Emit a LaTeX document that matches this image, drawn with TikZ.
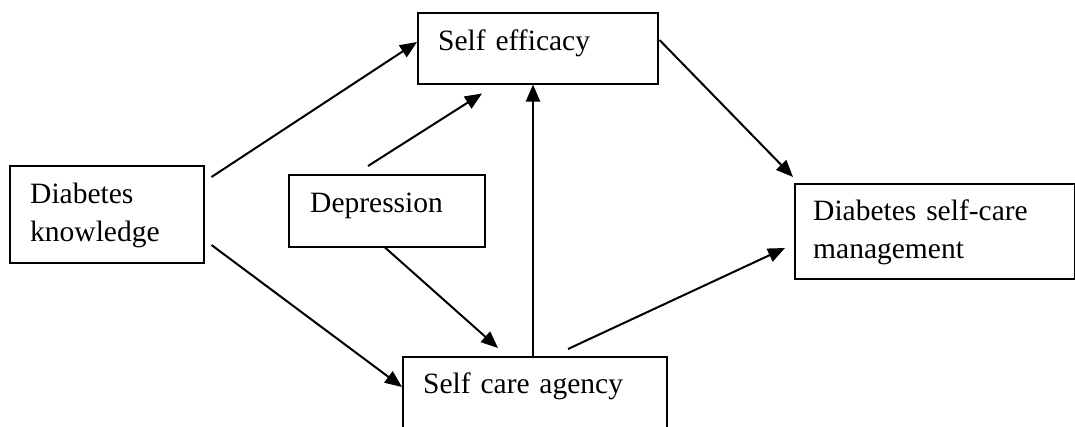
\documentclass[tikz,border=0pt]{standalone}
\usepackage{fontspec}
\setmainfont{Liberation Serif}
\usetikzlibrary{arrows.meta}
\tikzset{>={Triangle[length=17pt,width=14pt]}}

\begin{document}
\begin{tikzpicture}[x=1pt,y=-1pt,
    box/.style={draw,line width=1.5pt,inner sep=0pt,anchor=north west},
    txt/.style={inner sep=0pt,anchor=base west,align=left,text width=240pt,
      font=\fontsize{29.5}{38}\selectfont},
    link/.style={->,line width=2pt}]
    \useasboundingbox (0,0) rectangle (1075,426);
    % boxes
    \node[box,minimum width=194pt,minimum height=97pt] (dk) at (9,165) {};
    \node[box,minimum width=240pt,minimum height=71pt] (ef) at (417,12) {};
    \node[box,minimum width=196pt,minimum height=72pt] (dep) at (288,174) {};
    \node[box,minimum width=280pt,minimum height=95pt] (dm) at (794,183) {};
    \node[box,minimum width=264pt,minimum height=94pt] (sca) at (402,356) {};
    % texts
    \node[txt] (dk-t) at (30,203) {Diabetes\\knowledge};
    \node[txt] (ef-t) at (438,50) {Self efficacy};
    \node[txt] (dep-t) at (310,212) {Depression};
    \node[txt] (dm-t) at (813,220) {Diabetes self-care\\management};
    \node[txt] (sca-t) at (423,393) {Self care agency};
    % paths
    \draw[link] ([shift={(7,12)}]dk.north east) -- ([shift={(0,30)}]ef.north west);
    \draw[link] ([shift={(7,80)}]dk.north east) -- ([shift={(0,31)}]sca.north west);
    \draw[link] ([shift={(80,-8)}]dep.north west) -- ([shift={(65,9)}]ef.south west);
    \draw[link] ([shift={(97,0)}]dep.south west) -- ([shift={(96,-8)}]sca.north west);
    \draw[link] ([shift={(131,0)}]sca.north west) -- ([shift={(116,0)}]ef.south west);
    \draw[link] ([shift={(1,28)}]ef.north east) -- ([shift={(-1,-6)}]dm.north west);
    \draw[link] ([shift={(166,-7)}]sca.north west) -- ([shift={(-9,65)}]dm.north west);
\end{tikzpicture}
\end{document}
